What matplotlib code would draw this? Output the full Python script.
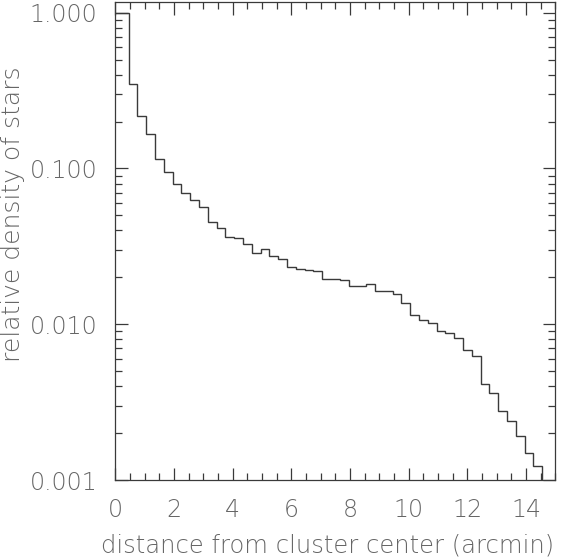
import matplotlib
matplotlib.use('Agg')
import matplotlib.pyplot as plt
import numpy as np
from matplotlib.ticker import LogLocator, FixedLocator, MultipleLocator, NullFormatter

plt.rcParams['font.family'] = 'DejaVu Sans'
plt.rcParams['font.weight'] = 200
plt.rcParams['axes.labelweight'] = 200

# bin edges (arcmin): first bin is wider, then 0.3 arcmin steps
bin_edges = [0.0, 0.45, 0.75, 1.05, 1.35, 1.65, 1.95, 2.25, 2.55, 2.85, 3.15,
             3.45, 3.75, 4.05, 4.35, 4.65, 4.95, 5.25, 5.55, 5.85, 6.15,
             6.45, 6.75, 7.05, 7.35, 7.65, 7.95, 8.25, 8.55, 8.85, 9.15,
             9.45, 9.75, 10.05, 10.35, 10.65, 10.95, 11.25, 11.55, 11.85, 12.15,
             12.45, 12.75, 13.05, 13.35, 13.65, 13.95, 14.25, 14.55, 14.85]
# relative density per bin (last bin is empty -> drawn below the axis)
density = [1.0, 0.350, 0.216, 0.167, 0.1156, 0.0948, 0.0798, 0.0695, 0.0630, 0.0565,
           0.0451, 0.0414, 0.0361, 0.0357, 0.0329, 0.0288, 0.0306, 0.0274, 0.0264, 0.0234,
           0.0227, 0.0222, 0.0219, 0.0196, 0.0196, 0.0193, 0.0177, 0.0177, 0.0180, 0.01626,
           0.0163, 0.0157, 0.01377, 0.01146, 0.0106, 0.0102, 0.0091, 0.00883, 0.00815, 0.00687,
           0.00629, 0.00411, 0.00364, 0.00279, 0.00240, 0.00193, 0.00150, 0.00123, 1e-5]

ytick_vals = [0.001, 0.01, 0.1, 1.0]
ytick_labels = ['0.001', '0.010', '0.100', '1.000']
xtick_vals = [0, 2, 4, 6, 8, 10, 12, 14]

txt = '#666666'
line = '#3a3a3a'

fig = plt.figure(figsize=(5.63, 5.58), dpi=100)
ax = fig.add_axes([115.3 / 563, 1 - 480 / 558, 440 / 563, 478.5 / 558])

ax.stairs(density, bin_edges, color=line, lw=1.0, baseline=None)

ax.set_yscale('log')
ax.set_xlim(0, 15)
ax.set_ylim(0.001, 1.18)

ax.yaxis.set_major_locator(FixedLocator(ytick_vals))
ax.set_yticklabels(ytick_labels)
ax.yaxis.set_minor_locator(LogLocator(base=10, subs=np.arange(2, 10)))
ax.yaxis.set_minor_formatter(NullFormatter())
ax.xaxis.set_major_locator(FixedLocator(xtick_vals))
ax.xaxis.set_minor_locator(MultipleLocator(0.5))

ax.tick_params(which='both', direction='in', top=True, right=True, color=line,
               width=0.9, labelcolor=txt, labelsize=17, pad=13)
ax.tick_params(which='major', length=9)
ax.tick_params(which='minor', length=5)
for s in ax.spines.values():
    s.set_color(line)
    s.set_linewidth(0.9)

ax.set_xlabel('distance from cluster center (arcmin)', fontsize=17.5, color=txt,
              va='center', ha='center', fontweight=200)
ax.xaxis.set_label_coords(0.483, -0.136)
ax.set_ylabel('relative density of stars', fontsize=18, color=txt,
              va='center', ha='center', fontweight=200)
ax.yaxis.set_label_coords(-0.2325, 0.556)

fig.savefig('out.png', dpi=100)
plt.close()
